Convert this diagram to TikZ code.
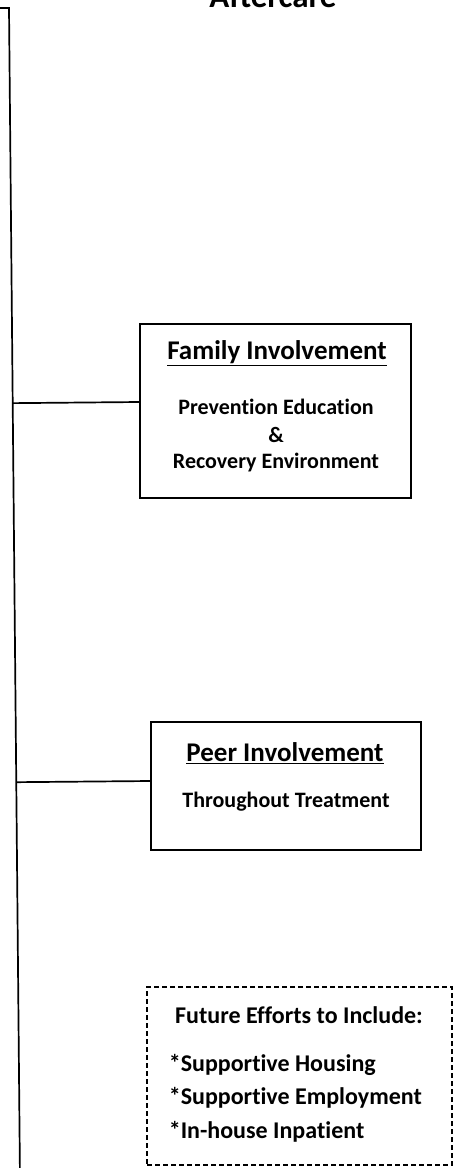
\documentclass[tikz,border=0pt]{standalone}
\usepackage{fontspec}
\setmainfont{Carlito}[Ligatures=NoCommon]
\usetikzlibrary{positioning}
\usetikzlibrary{calc}

\begin{document}
\begin{tikzpicture}[x=1pt, y=-1pt, line width=1.7pt]

\tikzset{
  box/.style={draw, line width=1.7pt, inner sep=0pt},
  futurebox/.style={box, line width=1.5pt, dash pattern=on 5pt off 3pt},
  head/.style={font=\bfseries\fontsize{27}{30}\selectfont, inner sep=0pt},
  txt/.style={font=\bfseries\fontsize{22}{25}\selectfont, inner sep=0pt},
  futtxt/.style={font=\bfseries\fontsize{24}{27}\selectfont, inner sep=0pt},
}
\useasboundingbox (0,0) rectangle (462,1168);

% trunk coming in from the left
\coordinate (corner) at (9,8);
\coordinate (bot) at (20,1180);
\draw (-5,8) -- (corner) -- (bot);

\node[font=\bfseries\fontsize{33}{36}\selectfont, inner sep=0pt, anchor=base] (after) at (273,7) {Aftercare};

% family
\node[box, minimum width=271pt, minimum height=174pt] (fam) at (275.5,411) {};
\node[head] (famtitle) at (277,353) {\underline{Family Involvement}};
\node[txt] (famone) at (276,407) {Prevention Education};
\node[txt] (famand) at (276,435) {\&};
\node[txt] (famtwo) at (276,463) {Recovery Environment};

% peer
\node[box, minimum width=270pt, minimum height=128pt] (peer) at (286,786) {};
\node[head] (peertitle) at (285,753) {\underline{Peer Involvement}};
\node[txt] (peerone) at (286,802) {Throughout Treatment};

% future
\node[futurebox, minimum width=305pt, minimum height=178pt] (fut) at (299.5,1076) {};
\node[futtxt] (futtitle) at (299,1015) {Future Efforts to Include:};
\node[futtxt, anchor=west] (futone) at (168,1065) {*Supportive Housing};
\node[futtxt, anchor=west] (futtwo) at (168,1098) {*Supportive Employment};
\node[futtxt, anchor=west] (futthree) at (168,1132) {*In-house Inpatient};

% branches
\draw ([yshift=9pt]fam.west) -- ($(corner)!([yshift=9pt]fam.west)!(bot)$);
\draw ([yshift=5pt]peer.west) -- ($(corner)!([yshift=5pt]peer.west)!(bot)$);

\end{tikzpicture}
\end{document}
